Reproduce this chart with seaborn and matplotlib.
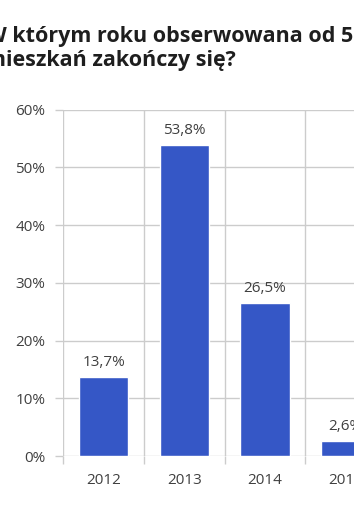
import matplotlib
matplotlib.use("Agg")
import matplotlib.pyplot as plt
import seaborn as sns
import pandas as pd
import numpy as np

years = ["2012", "2013", "2014", "2015"]
shares = [13.7, 53.8, 26.5, 2.6]
ytick_vals = [0, 10, 20, 30, 40, 50, 60]
title_line1 = "W którym roku obserwowana od 5 lat obniżka cen"
title_line2 = "mieszkań zakończy się?"

sns.set_theme(style="white")
plt.rcParams['font.family'] = ['Open Sans', 'DejaVu Sans']

W, H = 354, 515
fig = plt.figure(figsize=(W / 100, H / 100), dpi=100)
left_px, right_px = 63.3, 63.3 + 4 * 80.7
top_px, bot_px = 109.5, 456
ax = fig.add_axes([left_px / W, 1 - bot_px / H, (right_px - left_px) / W, (bot_px - top_px) / H])

df = pd.DataFrame({"year": years, "share": shares})
sns.barplot(data=df, x="year", y="share", order=years, color="#3557C6",
            width=0.61, saturation=1, ax=ax, zorder=3)

ax.set_xlim(-0.5, len(years) - 0.5)
ax.set_ylim(0, 60)
ax.set_yticks(ytick_vals)
ax.set_yticklabels([f"{v}%" for v in ytick_vals])
ax.set_xticks(np.arange(-0.5, len(years), 1.0), minor=True)
ax.set_xlabel("")
ax.set_ylabel("")

grid_c = "#cccccc"
ax.grid(axis="y", which="major", color=grid_c, lw=1, zorder=0)
ax.grid(axis="x", which="minor", color=grid_c, lw=1, zorder=0)
for s in ax.spines.values():
    s.set_visible(False)
ax.tick_params(axis="y", which="major", length=6, color=grid_c, width=1, pad=7,
               labelsize=11, labelcolor="#404040", left=True)
ax.tick_params(axis="x", which="major", length=0, pad=12, labelsize=11, labelcolor="#404040")
ax.tick_params(axis="x", which="minor", length=6, color=grid_c, width=1, bottom=True)

labels = [f"{v:.1f}".replace(".", ",") + "%" for v in shares]
ax.bar_label(ax.containers[0], labels=labels, padding=5, fontsize=11, color="#404040")

fig.text(-14 / W, 1 - 42 / H, title_line1, fontsize=15.5, fontweight="bold",
         color="#1e1e1e", va="baseline", ha="left")
fig.text(-15 / W, 1 - 66 / H, title_line2, fontsize=15.5, fontweight="bold",
         color="#1e1e1e", va="baseline", ha="left")

fig.savefig("out.png", dpi=100)
